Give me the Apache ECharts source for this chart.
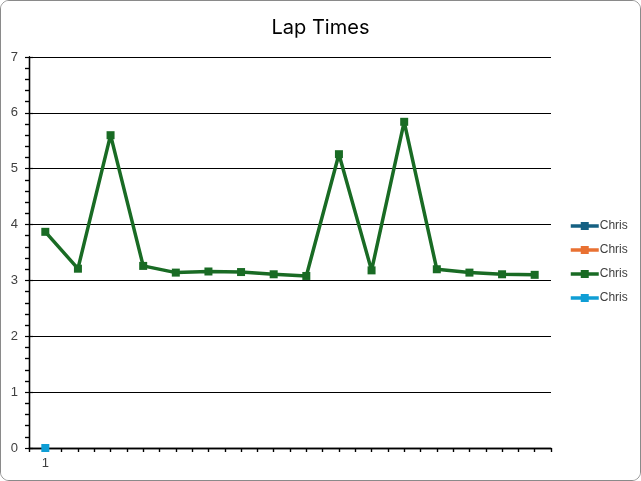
<!DOCTYPE html>
<html>
<head>
<meta charset="utf-8">
<script src="https://cdn.jsdelivr.net/npm/echarts@6/dist/echarts.min.js"></script>
<style>
html,body{margin:0;padding:0;background:#fff;}
#wrap{position:absolute;left:0;top:0;width:639px;height:479px;border:1px solid #8a8a8a;border-radius:9px;overflow:hidden;}
#chart{width:639px;height:479px;}
</style>
</head>
<body>
<div id="wrap"><div id="chart"></div></div>
<script>
const title = 'Lap Times';
const laps = [1,2,3,4,5,6,7,8,9,10,11,12,13,14,15,16];
const seriesNames = ['Chris','Chris','Chris','Chris'];
const seriesColors = ['#156082','#E97132','#196B24','#0F9ED5'];
const values1 = [];
const values2 = [];
const values3 = [3.87,3.21,5.60,3.26,3.14,3.16,3.15,3.11,3.08,5.26,3.18,5.84,3.20,3.14,3.11,3.10];
const values4 = [0];
const yTicks = [0,1,2,3,4,5,6,7];

const allValues = [values1, values2, values3, values4];
const chart = echarts.init(document.getElementById('chart'), null, {renderer:'canvas'});
const font = '"Liberation Sans", Arial, sans-serif';
const xCommon = {
  type:'value', min:0.5, max:16.5, interval:0.5,
  splitLine:{show:false},
  axisLine:{show:true, lineStyle:{color:'#000', width:1.3}}
};
const yCommon = {
  type:'value', min:yTicks[0], max:yTicks[yTicks.length-1], interval:1,
  axisLine:{show:true, lineStyle:{color:'#000', width:1.3}}
};
chart.setOption({
  animation:false,
  backgroundColor:'#fff',
  title:{text:title, left:'center', top:12, textStyle:{fontFamily:'Inter, "Open Sans", sans-serif', fontSize:20, fontWeight:'normal', color:'#000'}},
  grid:{left:28, right:89, top:56, bottom:32, containLabel:false},
  legend:{
    orient:'vertical', left:563, top:214, itemGap:12, itemWidth:28, itemHeight:10,
    lineStyle:{width:3.5},
    data:seriesNames.map((n,i)=>({name:n+'\u200b'.repeat(i)})),
    textStyle:{fontFamily:font, fontSize:12, color:'#404040', padding:[0,0,0,-4]}
  },
  xAxis:[
    Object.assign({}, xCommon, {
      axisTick:{show:true, inside:false, length:4, lineStyle:{color:'#000', width:1.2}},
      axisLabel:{show:true, margin:9, fontFamily:font, fontSize:13, color:'#404040',
        formatter:v=> v===laps[0] ? String(laps[0]) : ''}
    }),
    Object.assign({}, xCommon, {
      axisTick:{show:true, inside:true, length:4, lineStyle:{color:'#000', width:1.2}},
      axisLabel:{show:false}
    })
  ],
  yAxis:[
    Object.assign({}, yCommon, {
      splitLine:{show:true, lineStyle:{color:'#000', width:1}},
      axisTick:{show:true, inside:false, length:4, lineStyle:{color:'#000', width:1.2}},
      minorTick:{show:true, splitNumber:5, length:4, lineStyle:{color:'#000', width:1.2}},
      axisLabel:{margin:11, fontFamily:font, fontSize:13, color:'#404040'}
    }),
    Object.assign({}, yCommon, {
      position:'left',
      splitLine:{show:false},
      axisTick:{show:true, inside:true, length:4, lineStyle:{color:'#000', width:1.2}},
      minorTick:{show:true, splitNumber:5, length:-4, lineStyle:{color:'#000', width:1.2}},
      axisLabel:{show:false}
    })
  ],
  series: allValues.map((vals,i)=>({
    name: seriesNames[i]+'\u200b'.repeat(i),
    type:'line',
    xAxisIndex:0, yAxisIndex:0,
    data: vals.map((v,j)=>[laps[j], v]),
    symbol:'rect', symbolSize:8,
    lineStyle:{color:seriesColors[i], width:3.5},
    itemStyle:{color:seriesColors[i]},
    z: 3 + i
  }))
});
</script>
</body>
</html>
